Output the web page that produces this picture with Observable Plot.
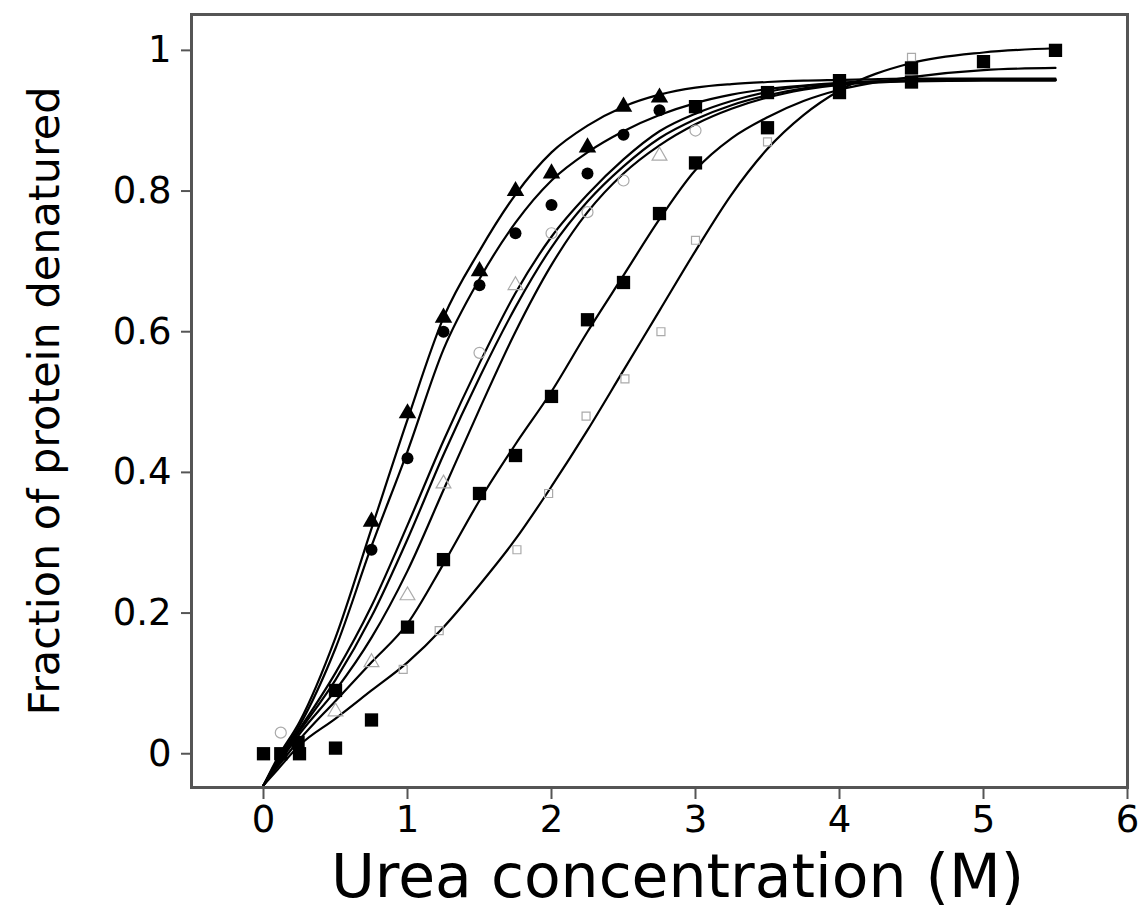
<!DOCTYPE html>
<html>
<head>
<meta charset="utf-8">
<script src="https://cdn.jsdelivr.net/npm/d3@7"></script>
<script src="https://cdn.jsdelivr.net/npm/@observablehq/plot@0.6"></script>
<style>
  html, body { margin: 0; padding: 0; background: #fff; }
  #chart { width: 1144px; height: 910px; }
</style>
</head>
<body>
<div id="chart"></div>
<script>
// ---- Fitted curves ----
const fitX = [0, 0.1, 0.25, 0.5, 0.75, 1, 1.25, 1.5, 1.75, 2, 2.25, 2.5, 2.75, 3, 3.25, 3.5, 3.75, 4, 4.5, 5, 5.5];
const fitA = [-0.045,-0.005,0.045,0.165,0.32,0.475,0.62,0.715,0.795,0.855,0.893,0.92,0.937,0.947,0.952,0.955,0.957,0.958,0.96,0.96,0.96];
const fitB = [-0.045,-0.008,0.04,0.15,0.295,0.43,0.575,0.675,0.755,0.815,0.855,0.885,0.908,0.925,0.937,0.945,0.95,0.954,0.957,0.958,0.958];
const fitC = [-0.045,-0.01,0.035,0.115,0.21,0.325,0.445,0.555,0.655,0.735,0.795,0.845,0.885,0.91,0.928,0.941,0.949,0.953,0.957,0.958,0.958];
const fitD = [-0.045,-0.012,0.032,0.105,0.195,0.305,0.425,0.535,0.635,0.72,0.785,0.835,0.875,0.902,0.922,0.936,0.946,0.952,0.957,0.958,0.958];
const fitE = [-0.045,-0.015,0.028,0.09,0.165,0.26,0.375,0.49,0.6,0.695,0.77,0.825,0.865,0.895,0.917,0.933,0.944,0.951,0.956,0.957,0.957];
const fitF = [-0.045,-0.018,0.02,0.075,0.13,0.185,0.27,0.36,0.44,0.515,0.6,0.68,0.76,0.83,0.875,0.905,0.928,0.944,0.962,0.972,0.975];
const fitG = [-0.045,-0.022,0.012,0.05,0.09,0.13,0.18,0.24,0.305,0.38,0.46,0.545,0.63,0.715,0.795,0.86,0.908,0.943,0.982,0.997,1.003];

// ---- Measured points ----
const triX = [0.75, 1, 1.25, 1.5, 1.75, 2, 2.25, 2.5, 2.75];
const triY = [0.33, 0.484, 0.62, 0.686, 0.80, 0.825, 0.862, 0.92, 0.933];
const circX = [0.75, 1, 1.25, 1.5, 1.75, 2, 2.25, 2.5, 2.75];
const circY = [0.29, 0.42, 0.60, 0.666, 0.74, 0.78, 0.825, 0.88, 0.915];
const sqX = [0, 0.25, 0.5, 0.75, 1, 1.25, 1.5, 1.75, 2, 2.25, 2.5, 2.75, 3, 3.5, 4, 4.5, 5, 5.5];
const sqY = [0, 0, 0.008, 0.048, 0.18, 0.276, 0.37, 0.424, 0.508, 0.617, 0.67, 0.768, 0.84, 0.89, 0.94, 0.955, 0.984, 1.0];
const sq2X = [0.12, 0.24, 0.5, 3, 3.5, 4, 4.5];
const sq2Y = [0.0, 0.016, 0.09, 0.92, 0.94, 0.957, 0.975];
const openCircX = [0.12, 1.5, 2, 2.25, 2.5, 3];
const openCircY = [0.03, 0.57, 0.74, 0.77, 0.815, 0.886];
const openTriX = [0.5, 0.75, 1, 1.25, 1.75, 2.75];
const openTriY = [0.06, 0.13, 0.225, 0.384, 0.666, 0.85];
const openSqX = [0.97, 1.22, 1.76, 1.98, 2.24, 2.51, 2.76, 3, 3.5, 4.5];
const openSqY = [0.12, 0.175, 0.29, 0.37, 0.48, 0.533, 0.60, 0.73, 0.87, 0.99];

const xTicks = [0, 1, 2, 3, 4, 5, 6];
const yTicks = [0, 0.2, 0.4, 0.6, 0.8, 1];
const xTitle = "Urea concentration (M)";
const yTitle = "Fraction of protein denatured";

// ---- build tables ----
const fits = {A: fitA, B: fitB, C: fitC, D: fitD, E: fitE, F: fitF, G: fitG};
const curveRows = Object.entries(fits).flatMap(([k, ys]) => ys.map((y, i) => ({series: k, x: fitX[i], y})));
const pts = (xs, ys) => xs.map((x, i) => ({x, y: ys[i]}));

const font = "'DejaVu Sans', sans-serif";
const chart = Plot.plot({
  width: 1144,
  height: 910,
  marginLeft: 191,
  marginRight: 17,
  marginTop: 14,
  marginBottom: 123,
  style: {fontFamily: font, background: "#fff", color: "#000"},
  x: {domain: [-0.5, 6]},
  y: {domain: [-0.048, 1.051]},
  marks: [
    Plot.line(curveRows, {x: "x", y: "y", z: "series", curve: "monotone-x", stroke: "#000", strokeWidth: 2.2}),
    Plot.dot(pts(openSqX, openSqY), {x: "x", y: "y", symbol: "square", r: 4.5, stroke: "#aaa", strokeWidth: 1.2, fill: "none"}),
    Plot.dot(pts(openTriX, openTriY), {x: "x", y: "y", symbol: "triangle", r: 5.5, stroke: "#aaa", strokeWidth: 1.2, fill: "none"}),
    Plot.dot(pts(openCircX, openCircY), {x: "x", y: "y", symbol: "circle", r: 5.5, stroke: "#aaa", strokeWidth: 1.2, fill: "none"}),
    Plot.dot(pts(sqX, sqY), {x: "x", y: "y", symbol: "square", r: 7.5, fill: "#000"}),
    Plot.dot(pts(sq2X, sq2Y), {x: "x", y: "y", symbol: "square", r: 7.5, fill: "#000"}),
    Plot.dot(pts(circX, circY), {x: "x", y: "y", symbol: "circle", r: 6, fill: "#000"}),
    Plot.dot(pts(triX, triY), {x: "x", y: "y", symbol: "triangle", r: 6.5, fill: "#000"}),
    Plot.frame({stroke: "#555", strokeWidth: 3}),
    Plot.axisX({ticks: xTicks, tickSize: 12, tickPadding: 6, stroke: "#555", strokeWidth: 2, fontSize: 37, label: null, tickFormat: d => String(d)}),
    Plot.axisY({ticks: yTicks, tickSize: 10, tickPadding: 10, stroke: "#555", strokeWidth: 2, fontSize: 37, label: null, tickFormat: d => d === 0 ? "0" : d === 1 ? "1" : d.toFixed(1)}),
    Plot.text([xTitle], {text: d => d, frameAnchor: "bottom", dy: 90, dx: 18, textAnchor: "middle", lineAnchor: "middle", fontSize: 60, fill: "#000"}),
    Plot.text([yTitle], {text: d => d, frameAnchor: "left", dx: -146, rotate: -90, textAnchor: "middle", lineAnchor: "middle", fontSize: 43, fill: "#000"})
  ]
});
document.getElementById("chart").appendChild(chart);
</script>
</body>
</html>
